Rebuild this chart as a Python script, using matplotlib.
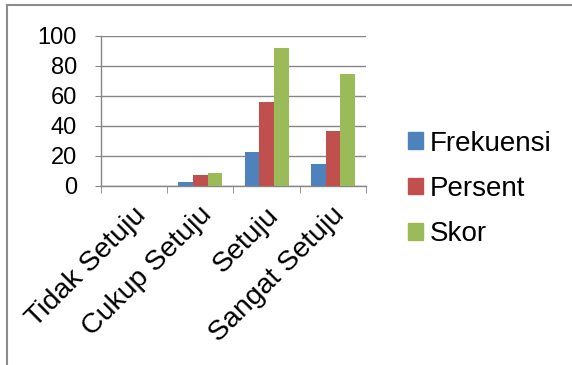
import matplotlib
matplotlib.use("Agg")
import matplotlib.pyplot as plt
from matplotlib.lines import Line2D
from matplotlib.transforms import ScaledTranslation
import numpy as np

categories = ["Tidak Setuju", "Cukup Setuju", "Setuju", "Sangat Setuju"]
frekuensi = [0, 3, 23, 15]
persent = [0, 7.32, 56.1, 36.59]
skor = [0, 9, 92, 75]
series_names = ["Frekuensi", "Persent", "Skor"]
y_ticks = [0, 20, 40, 60, 80, 100]

colors = ["#4F81BD", "#C0504D", "#9BBB59"]
grid_color = "#868686"

plt.rcParams["font.family"] = ["Liberation Sans", "DejaVu Sans"]

fig = plt.figure(figsize=(5.72, 3.65), dpi=100)
ax = fig.add_axes([101 / 572, 1 - 186 / 365, 265 / 572, 150 / 365])

x = np.arange(len(categories))
width = 1 / 4.5
for i, (vals, name) in enumerate(zip([frekuensi, persent, skor], series_names)):
    ax.bar(x + (i - 1) * width, vals, width, color=colors[i], label=name, zorder=3)

ax.set_xlim(-0.5, len(categories) - 0.5)
ax.set_ylim(0, 100)
ax.set_yticks(y_ticks)
ax.yaxis.grid(True, color=grid_color, linewidth=1.0, zorder=0)
ax.tick_params(axis="y", length=4.3, color=grid_color, labelsize=17, pad=13)

ax.set_xticks(x)
ax.set_xticks(np.arange(len(categories) + 1) - 0.5, minor=True)
ax.tick_params(axis="x", which="major", length=0, labelsize=20.5, pad=11.5)
ax.tick_params(axis="x", which="minor", length=5, color=grid_color)
ax.set_xticklabels(categories, rotation=45, ha="right", va="top", rotation_mode="anchor")
shift = ScaledTranslation(-1 / 72, 0, fig.dpi_scale_trans)
for lbl in ax.get_xticklabels():
    lbl.set_transform(lbl.get_transform() + shift)

for s in ["top", "right"]:
    ax.spines[s].set_visible(False)
for s in ["left", "bottom"]:
    ax.spines[s].set_color(grid_color)
    ax.spines[s].set_linewidth(1.0)

handles = [plt.Rectangle((0, 0), 1, 1, color=c) for c in colors]
fig.legend(handles, series_names, loc="center left", bbox_to_anchor=(408 / 572, 1 - 189 / 365),
           frameon=False, fontsize=20, handlelength=0.54, handleheight=0.54,
           handletextpad=0.25, labelspacing=0.7, borderpad=0, borderaxespad=0)

# outer chart frame (top and left edges)
fig.add_artist(Line2D([7 / 572, 1.0], [1 - 5 / 365, 1 - 5 / 365], color="#8c8c8c", linewidth=1.5,
                      transform=fig.transFigure))
fig.add_artist(Line2D([7 / 572, 7 / 572], [0, 1 - 5 / 365], color="#8c8c8c", linewidth=1.5,
                      transform=fig.transFigure))

fig.savefig("out.png", dpi=100)
